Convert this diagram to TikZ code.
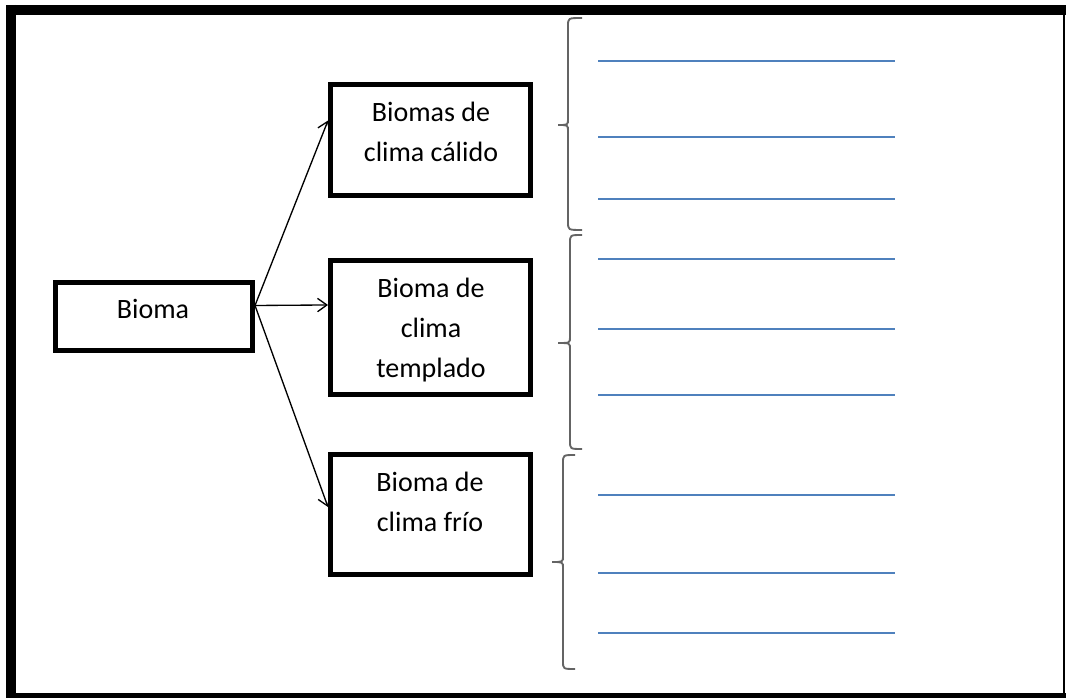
\documentclass[tikz,border=0pt]{standalone}
\usepackage{fontspec}
\setmainfont{Carlito}
\usetikzlibrary{arrows.meta}
\definecolor{lineblue}{RGB}{79,129,189}
\definecolor{bracegray}{RGB}{100,100,100}
\tikzset{
  box/.style={draw=black, line width=3.75pt, rectangle, inner sep=0pt},
  lbl/.style={font=\fontsize{21pt}{30pt}\selectfont, align=center, inner sep=0pt, anchor=base},
  conn/.style={line width=1pt, -{Straight Barb[length=7pt,width=10pt,line width=1pt]}},
  brace/.style={draw=bracegray, line width=1.4pt},
  blank/.style={draw=lineblue, line width=1.1pt},
  framethick/.style={line width=7.5pt},
  framethin/.style={line width=1.5pt}
}
\begin{document}
\begin{tikzpicture}[x=0.75pt,y=-0.75pt]
\useasboundingbox (0,0) rectangle (1066,698);
\clip (0,0) rectangle (1066,698);
\fill[white] (0,0) rectangle (1066,698);
% frame
\coordinate (ftl) at (11,5);
\coordinate (fbl) at (11,698);
\coordinate (fl) at (6,10);
\coordinate (fr) at (1066,10);
\coordinate (rt) at (1064,10);
\coordinate (rb) at (1064,698);
\coordinate (bl) at (6,696);
\coordinate (br) at (1066,696);
\draw[framethick] (ftl) -- (fbl);
\draw[framethick] (fl) -- (fr);
\draw[framethin] (rt) -- (rb);
\draw[line width=4pt] (bl) -- (br);
% boxes
\node[box, minimum width=147.75pt, minimum height=51pt] (bioma) at (154,316.5) {};
\node[box, minimum width=150pt, minimum height=83.25pt] (c1) at (430.5,140) {};
\node[box, minimum width=150pt, minimum height=100.5pt] (c2) at (430.5,327.5) {};
\node[box, minimum width=150pt, minimum height=90pt] (c3) at (430.5,514.5) {};
% labels (base = baseline of last line)
\node[lbl] (tb) at (153,319) {Bioma};
\node[lbl] (t1) at (431,162) {Biomas de\\clima cálido};
\node[lbl] (t2) at (431,377) {Bioma de\\clima\\templado};
\node[lbl] (t3) at (430,531) {Bioma de\\clima frío};
% connectors
\draw[conn] ([yshift=8.25pt]bioma.east) -- ([yshift=14.6pt]c1.west);
\draw[conn] ([yshift=8.25pt]bioma.east) -- ([yshift=16.9pt]c2.west);
\draw[conn] ([yshift=8.25pt]bioma.east) -- ([yshift=5.6pt]c3.west);
% braces
\draw[brace] (582,18) .. controls (568,18) .. (568,26) -- (568,119) .. controls (568,125) .. (558,125) .. controls (568,125) .. (568,131) -- (568,222) .. controls (568,230) .. (582,230);
\draw[brace] (582,235) .. controls (570,235) .. (570,243) -- (570,337) .. controls (570,343) .. (558,343) .. controls (570,343) .. (570,349) -- (570,441) .. controls (570,449) .. (582,449);
\draw[brace] (575,455) .. controls (563,455) .. (563,463) -- (563,556) .. controls (563,562) .. (552,562) .. controls (563,562) .. (563,568) -- (563,661) .. controls (563,669) .. (575,669);
% blank lines
\foreach \yy [count=\i] in {61,137,199,259,329,395,495,573,633}{
  \coordinate (la\i) at (598,\yy);
  \coordinate (lb\i) at (895,\yy);
  \draw[blank] (la\i) -- (lb\i);
}
\end{tikzpicture}
\end{document}
